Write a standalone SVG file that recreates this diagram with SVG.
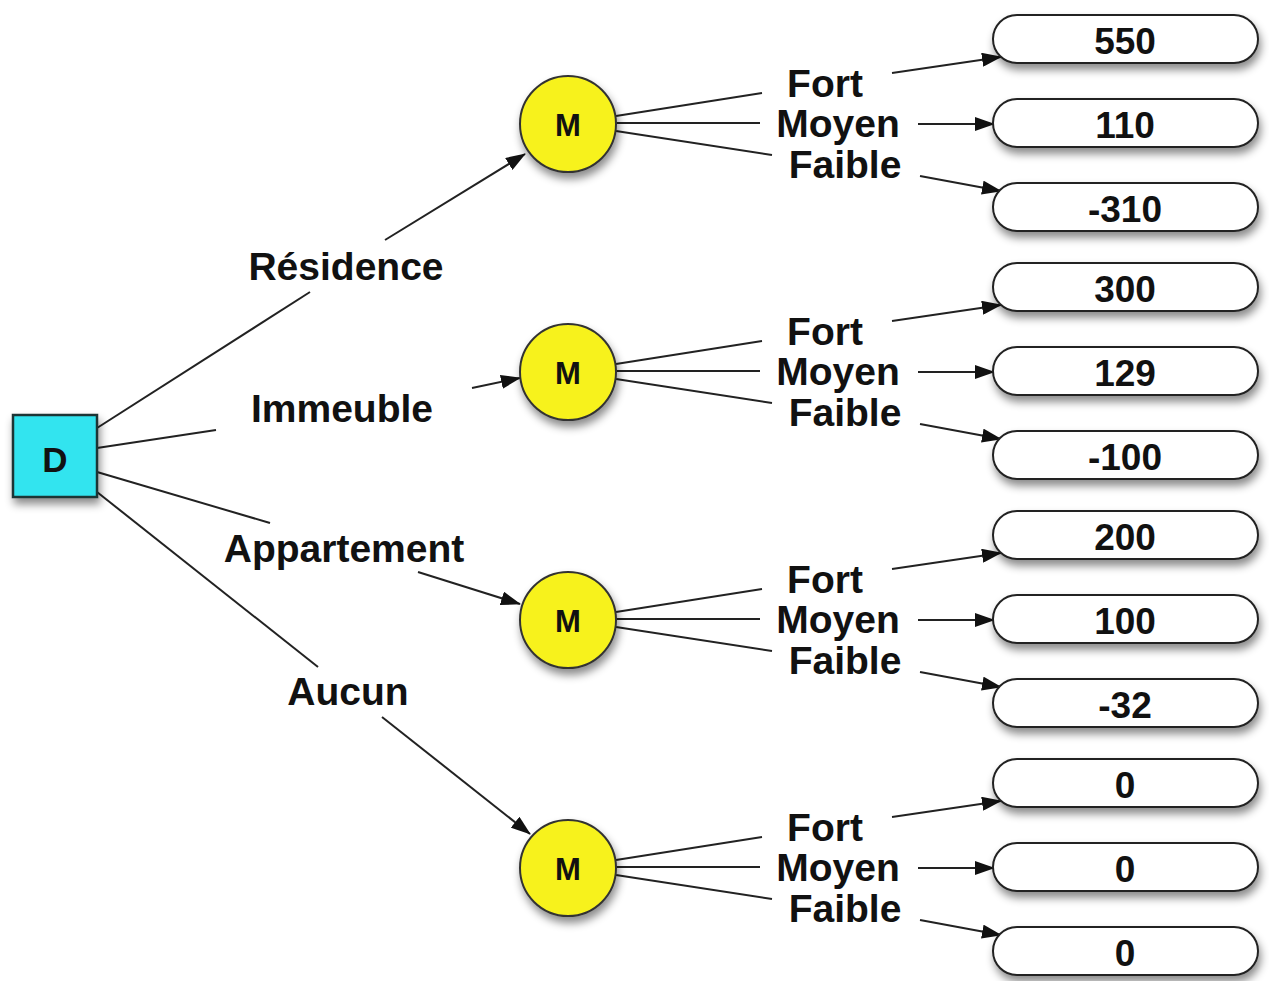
<svg xmlns="http://www.w3.org/2000/svg" width="1269" height="981" viewBox="0 0 1269 981">
<style>
.lbl{font-family:"Liberation Sans",Arial,sans-serif;font-weight:bold;font-size:39px;fill:#111;text-anchor:middle}
.val{font-family:"Liberation Sans",Arial,sans-serif;font-weight:bold;font-size:37px;fill:#111;text-anchor:middle}
.nodetxt{font-family:"Liberation Sans",Arial,sans-serif;font-weight:bold;fill:#111;text-anchor:middle}
.ln{stroke:#222;stroke-width:2;fill:none}
.ar{stroke:#222;stroke-width:2;fill:none;marker-end:url(#arr)}
.pill{fill:#fff;stroke:#222;stroke-width:2;filter:url(#sh)}
.chance{fill:#f7f21e;stroke:#333;stroke-width:2;filter:url(#sh)}
</style>
<defs>
<marker id="arr" markerUnits="userSpaceOnUse" markerWidth="20" markerHeight="14" refX="19" refY="7" orient="auto">
<path d="M0,0 L20,7 L0,14 z" fill="#111"/>
</marker>
<filter id="sh" x="-20%" y="-20%" width="150%" height="160%">
<feDropShadow dx="2" dy="6" stdDeviation="4" flood-color="#000" flood-opacity="0.45"/>
</filter>
</defs>
<rect width="1269" height="981" fill="#fff"/>
<g id="connectors">
<line class="ln" x1="97" y1="428" x2="310" y2="292"/>
<line class="ar" x1="385" y1="240" x2="525" y2="154"/>
<line class="ln" x1="97" y1="448" x2="216" y2="430"/>
<line class="ar" x1="472" y1="388" x2="520" y2="378"/>
<line class="ln" x1="97" y1="472" x2="270" y2="523"/>
<line class="ar" x1="418" y1="572" x2="520" y2="604"/>
<line class="ln" x1="97" y1="492" x2="318" y2="667"/>
<line class="ar" x1="382" y1="717" x2="530" y2="834"/>
<g id="c1">
<line class="ln" x1="616" y1="116" x2="762" y2="93"/>
<line class="ln" x1="616" y1="123" x2="760" y2="123"/>
<line class="ln" x1="616" y1="131" x2="772" y2="155"/>
<line class="ar" x1="892" y1="73" x2="1001" y2="57"/>
<line class="ar" x1="918" y1="124" x2="994" y2="124"/>
<line class="ar" x1="920" y1="176" x2="1001" y2="191"/>
</g>
<use href="#c1" y="248"/>
<use href="#c1" y="496"/>
<use href="#c1" y="744"/>
</g>
<g id="d">
<rect x="13" y="415" width="84" height="82" fill="#33e4ef" stroke="#1c3434" stroke-width="2.5" filter="url(#sh)"/>
<text class="nodetxt" x="55" y="472" font-size="35">D</text>
</g>
<g id="m1"><circle class="chance" cx="568" cy="124" r="48"/><text class="nodetxt" x="568" y="136" font-size="31">M</text></g>
<g id="m2"><circle class="chance" cx="568" cy="372" r="48"/><text class="nodetxt" x="568" y="384" font-size="31">M</text></g>
<g id="m3"><circle class="chance" cx="568" cy="620" r="48"/><text class="nodetxt" x="568" y="632" font-size="31">M</text></g>
<g id="m4"><circle class="chance" cx="568" cy="868" r="48"/><text class="nodetxt" x="568" y="880" font-size="31">M</text></g>
<g id="labels">
<text class="lbl" x="346" y="280">Résidence</text>
<text class="lbl" x="342" y="422">Immeuble</text>
<text class="lbl" x="344" y="562">Appartement</text>
<text class="lbl" x="348" y="705">Aucun</text>
<text class="lbl" x="825" y="97">Fort</text>
<text class="lbl" x="838" y="137">Moyen</text>
<text class="lbl" x="845" y="178">Faible</text>
<text class="lbl" x="825" y="345">Fort</text>
<text class="lbl" x="838" y="385">Moyen</text>
<text class="lbl" x="845" y="426">Faible</text>
<text class="lbl" x="825" y="593">Fort</text>
<text class="lbl" x="838" y="633">Moyen</text>
<text class="lbl" x="845" y="674">Faible</text>
<text class="lbl" x="825" y="841">Fort</text>
<text class="lbl" x="838" y="881">Moyen</text>
<text class="lbl" x="845" y="922">Faible</text>
</g>
<g id="p1"><rect class="pill" x="993" y="15" width="265" height="48" rx="24"/><text class="val" x="1125" y="54">550</text></g>
<g id="p2"><rect class="pill" x="993" y="99" width="265" height="48" rx="24"/><text class="val" x="1125" y="138">110</text></g>
<g id="p3"><rect class="pill" x="993" y="183" width="265" height="48" rx="24"/><text class="val" x="1125" y="222">-310</text></g>
<g id="p4"><rect class="pill" x="993" y="263" width="265" height="48" rx="24"/><text class="val" x="1125" y="302">300</text></g>
<g id="p5"><rect class="pill" x="993" y="347" width="265" height="48" rx="24"/><text class="val" x="1125" y="386">129</text></g>
<g id="p6"><rect class="pill" x="993" y="431" width="265" height="48" rx="24"/><text class="val" x="1125" y="470">-100</text></g>
<g id="p7"><rect class="pill" x="993" y="511" width="265" height="48" rx="24"/><text class="val" x="1125" y="550">200</text></g>
<g id="p8"><rect class="pill" x="993" y="595" width="265" height="48" rx="24"/><text class="val" x="1125" y="634">100</text></g>
<g id="p9"><rect class="pill" x="993" y="679" width="265" height="48" rx="24"/><text class="val" x="1125" y="718">-32</text></g>
<g id="p10"><rect class="pill" x="993" y="759" width="265" height="48" rx="24"/><text class="val" x="1125" y="798">0</text></g>
<g id="p11"><rect class="pill" x="993" y="843" width="265" height="48" rx="24"/><text class="val" x="1125" y="882">0</text></g>
<g id="p12"><rect class="pill" x="993" y="927" width="265" height="48" rx="24"/><text class="val" x="1125" y="966">0</text></g>
</svg>
